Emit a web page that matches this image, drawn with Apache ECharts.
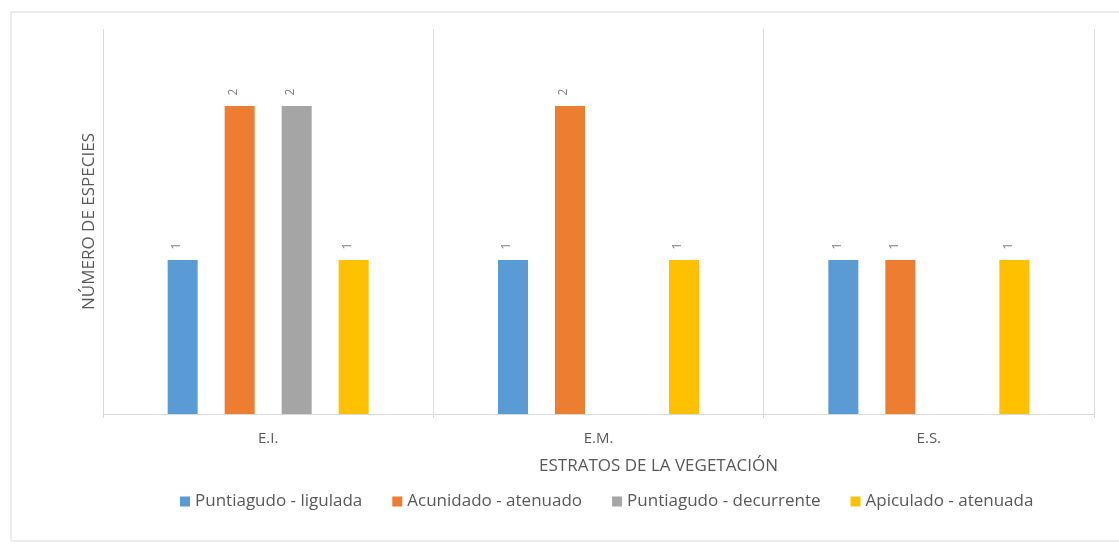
<!DOCTYPE html>
<html>
<head>
<meta charset="utf-8">
<script src="https://cdn.jsdelivr.net/npm/echarts@6/dist/echarts.min.js"></script>
<style>
  html, body { margin: 0; padding: 0; background: #fff; }
  #chart { width: 1119px; height: 544px; }
</style>
</head>
<body>
<div id="chart"></div>
<script>
// Leaf apex shapes counted per vegetation stratum
const strata = ['E.I.', 'E.M.', 'E.S.'];
const seriesNames = ['Puntiagudo - ligulada', 'Acunidado - atenuado', 'Puntiagudo - decurrente', 'Apiculado - atenuada'];
const puntiagudoLigulada = [1, 1, 1];
const acunidadoAtenuado = [2, 2, 1];
const puntiagudoDecurrente = [2, null, null];
const apiculadoAtenuada = [1, 1, 1];
const colors = ['#5B9BD5', '#ED7D31', '#A5A5A5', '#FFC000'];

const values = [puntiagudoLigulada, acunidadoAtenuado, puntiagudoDecurrente, apiculadoAtenuada];
const font = '"Open Sans", "Noto Sans", sans-serif';

const chart = echarts.init(document.getElementById('chart'));
chart.setOption({
  animation: false,
  textStyle: { fontFamily: font },
  graphic: [{
    type: 'polyline',
    shape: { points: [[1125, 12], [11, 12], [11, 541], [1125, 541]] },
    style: { stroke: '#d9d9d9', fill: null, lineWidth: 1 }
  }],
  grid: { left: 103, right: 25, top: 29, bottom: 130 },
  legend: {
    top: 488,
    left: 175,
    itemWidth: 10,
    itemHeight: 10,
    itemGap: 30,
    icon: 'rect',
    textStyle: { color: '#595959', fontSize: 17, fontFamily: font },
    data: seriesNames
  },
  xAxis: {
    type: 'category',
    data: strata,
    name: 'ESTRATOS DE LA VEGETACIÓN',
    nameLocation: 'middle',
    nameGap: 44,
    nameTextStyle: { color: '#595959', fontSize: 17, fontFamily: font, padding: [0, 0, 0, 120] },
    axisLine: { lineStyle: { color: '#d9d9d9' } },
    axisTick: { show: true, length: 4, lineStyle: { color: '#d9d9d9' } },
    axisLabel: { color: '#595959', fontSize: 15, margin: 17 },
    splitLine: { show: true, lineStyle: { color: '#d9d9d9' } }
  },
  yAxis: {
    type: 'value',
    min: 0,
    max: 2.5,
    interval: 0.5,
    name: 'NÚMERO DE ESPECIES',
    nameLocation: 'middle',
    nameGap: 5,
    nameTextStyle: { color: '#595959', fontSize: 17, fontFamily: font },
    axisLabel: { show: false },
    axisLine: { show: false },
    axisTick: { show: false },
    splitLine: { show: false }
  },
  series: seriesNames.map((name, i) => ({
    name,
    type: 'bar',
    data: values[i],
    barWidth: 30,
    barGap: '90%',
    itemStyle: { color: colors[i] },
    label: {
      show: true,
      position: 'top',
      rotate: 90,
      distance: 14,
      color: '#7f7f7f',
      fontSize: 12,
      fontFamily: font
    }
  }))
});
</script>
</body>
</html>
